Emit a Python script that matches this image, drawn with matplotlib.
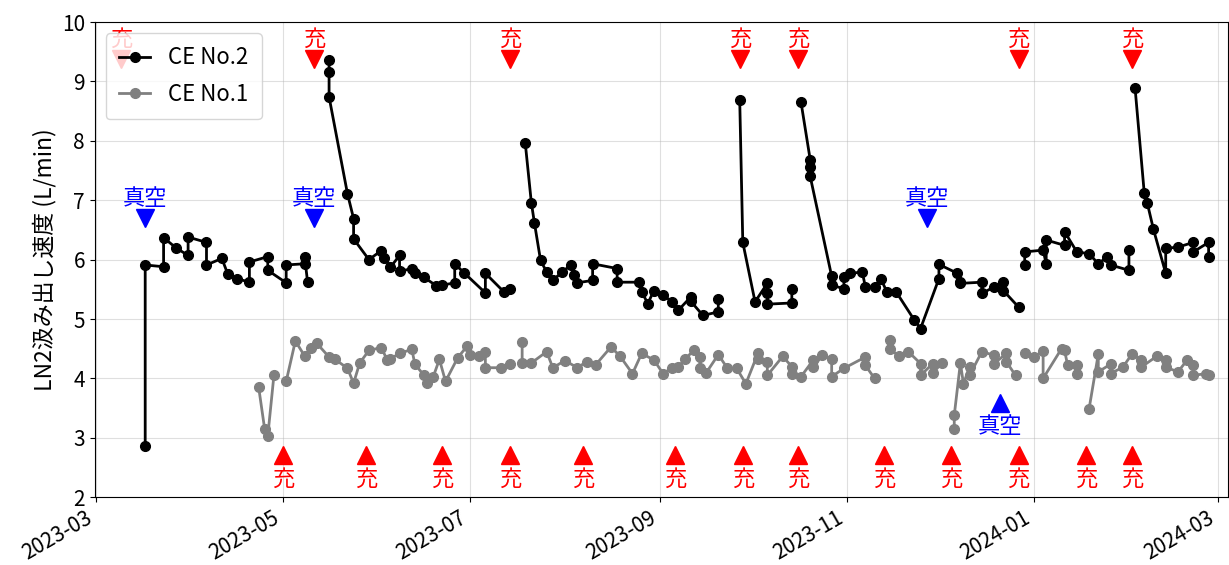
import matplotlib
matplotlib.use("Agg")
import matplotlib.dates as mdates
import matplotlib.pyplot as plt
import numpy as np
import pandas as pd

# CE No.2 (date, L/min); None marks a break in the line
ce2 = [
    ("2023-03-17", 2.87), ("2023-03-17", 5.91), ("2023-03-23", 5.88), ("2023-03-23", 6.37),
    ("2023-03-27", 6.20), ("2023-03-31", 6.07), ("2023-03-31", 6.38), ("2023-04-06", 6.29),
    ("2023-04-06", 5.91), ("2023-04-11", 6.02), ("2023-04-13", 5.75), ("2023-04-16", 5.68),
    ("2023-04-20", 5.62), ("2023-04-20", 5.96), ("2023-04-26", 6.05), ("2023-04-26", 5.82),
    ("2023-05-02", 5.61), ("2023-05-02", 5.91), ("2023-05-08", 5.93), ("2023-05-08", 6.05),
    ("2023-05-09", 5.62), ("2023-05-12", None),
    ("2023-05-16", 9.36), ("2023-05-16", 9.16), ("2023-05-16", 8.74), ("2023-05-22", 7.11),
    ("2023-05-24", 6.69), ("2023-05-24", 6.35), ("2023-05-29", 6.00), ("2023-06-02", 6.15),
    ("2023-06-03", 6.03), ("2023-06-05", 5.87), ("2023-06-08", 6.07), ("2023-06-08", 5.80),
    ("2023-06-12", 5.85), ("2023-06-13", 5.77), ("2023-06-16", 5.70), ("2023-06-20", 5.56),
    ("2023-06-22", 5.57), ("2023-06-26", 5.61), ("2023-06-26", 5.93), ("2023-06-29", 5.78),
    ("2023-07-06", 5.44), ("2023-07-06", 5.77), ("2023-07-12", 5.46), ("2023-07-14", 5.51),
    ("2023-07-16", None),
    ("2023-07-19", 7.97), ("2023-07-21", 6.96), ("2023-07-22", 6.62), ("2023-07-24", 5.99),
    ("2023-07-26", 5.79), ("2023-07-28", 5.65), ("2023-07-31", 5.79), ("2023-08-03", 5.91),
    ("2023-08-04", 5.74), ("2023-08-05", 5.61), ("2023-08-10", 5.65), ("2023-08-10", 5.93),
    ("2023-08-18", 5.85), ("2023-08-18", 5.62), ("2023-08-25", 5.62), ("2023-08-26", 5.46),
    ("2023-08-28", 5.26), ("2023-08-30", 5.48), ("2023-09-02", 5.40), ("2023-09-05", 5.29),
    ("2023-09-07", 5.15), ("2023-09-11", 5.37), ("2023-09-11", 5.30), ("2023-09-15", 5.06),
    ("2023-09-20", 5.12), ("2023-09-20", 5.34), ("2023-09-23", None),
    ("2023-09-27", 8.68), ("2023-09-28", 6.29), ("2023-10-02", 5.29), ("2023-10-06", 5.60),
    ("2023-10-06", 5.43), ("2023-10-06", 5.25), ("2023-10-14", 5.27), ("2023-10-14", 5.51),
    ("2023-10-15", None),
    ("2023-10-17", 8.65), ("2023-10-20", 7.68), ("2023-10-20", 7.56), ("2023-10-20", 7.40),
    ("2023-10-27", 5.72), ("2023-10-27", 5.57), ("2023-10-31", 5.51), ("2023-10-31", 5.71),
    ("2023-11-02", 5.77), ("2023-11-06", 5.79), ("2023-11-07", 5.54), ("2023-11-10", 5.54),
    ("2023-11-12", 5.68), ("2023-11-14", 5.46), ("2023-11-17", 5.46), ("2023-11-23", 4.98),
    ("2023-11-25", 4.84), ("2023-12-01", 5.68), ("2023-12-01", 5.92), ("2023-12-07", 5.77),
    ("2023-12-08", 5.63), ("2023-12-08", 5.60), ("2023-12-15", 5.62), ("2023-12-15", 5.43),
    ("2023-12-19", 5.54), ("2023-12-22", 5.62), ("2023-12-22", 5.48), ("2023-12-27", 5.20),
    ("2023-12-28", None),
    ("2023-12-29", 5.91), ("2023-12-29", 6.13), ("2024-01-04", 6.16), ("2024-01-05", 5.93),
    ("2024-01-05", 6.33), ("2024-01-11", 6.24), ("2024-01-11", 6.47), ("2024-01-15", 6.13),
    ("2024-01-19", 6.10), ("2024-01-22", 5.93), ("2024-01-25", 6.05), ("2024-01-26", 5.91),
    ("2024-02-01", 5.82), ("2024-02-01", 6.16), ("2024-02-02", None),
    ("2024-02-03", 8.89), ("2024-02-06", 7.12), ("2024-02-07", 6.95), ("2024-02-09", 6.51),
    ("2024-02-13", 5.77), ("2024-02-13", 6.19), ("2024-02-17", 6.21), ("2024-02-22", 6.29),
    ("2024-02-22", 6.13), ("2024-02-27", 6.29), ("2024-02-27", 6.05),
]

# CE No.1
ce1 = [
    ("2023-04-23", 3.86), ("2023-04-25", 3.14), ("2023-04-26", 3.03), ("2023-04-28", 4.05),
    ("2023-04-30", None),
    ("2023-05-02", 3.95), ("2023-05-05", 4.63), ("2023-05-08", 4.38), ("2023-05-10", 4.51),
    ("2023-05-12", 4.59), ("2023-05-16", 4.36), ("2023-05-18", 4.32), ("2023-05-22", 4.17),
    ("2023-05-24", 3.92), ("2023-05-26", 4.26), ("2023-05-29", 4.47), ("2023-06-02", 4.52),
    ("2023-06-04", 4.31), ("2023-06-05", 4.33), ("2023-06-08", 4.42), ("2023-06-12", 4.49),
    ("2023-06-13", 4.24), ("2023-06-16", 4.05), ("2023-06-17", 3.92), ("2023-06-19", 4.03),
    ("2023-06-21", 4.32), ("2023-06-23", 3.95), ("2023-06-27", 4.35), ("2023-06-30", 4.54),
    ("2023-07-01", 4.39), ("2023-07-04", 4.37), ("2023-07-06", 4.45), ("2023-07-06", 4.18),
    ("2023-07-11", 4.18), ("2023-07-14", 4.24), ("2023-07-16", None),
    ("2023-07-18", 4.61), ("2023-07-18", 4.26), ("2023-07-21", 4.26), ("2023-07-26", 4.45),
    ("2023-07-28", 4.18), ("2023-08-01", 4.30), ("2023-08-05", 4.18), ("2023-08-08", 4.28),
    ("2023-08-11", 4.23), ("2023-08-16", 4.53), ("2023-08-19", 4.37), ("2023-08-23", 4.08),
    ("2023-08-26", 4.42), ("2023-08-30", 4.31), ("2023-09-02", 4.08), ("2023-09-05", 4.18),
    ("2023-09-07", 4.19), ("2023-09-09", 4.32), ("2023-09-12", 4.47), ("2023-09-14", 4.36),
    ("2023-09-14", 4.17), ("2023-09-16", 4.09), ("2023-09-20", 4.40), ("2023-09-23", 4.17),
    ("2023-09-26", 4.17), ("2023-09-29", 3.91), ("2023-10-03", 4.43), ("2023-10-03", 4.32),
    ("2023-10-06", 4.28), ("2023-10-06", 4.05), ("2023-10-11", 4.37), ("2023-10-14", 4.20),
    ("2023-10-14", 4.08), ("2023-10-17", 4.03), ("2023-10-21", 4.31), ("2023-10-21", 4.19),
    ("2023-10-24", 4.39), ("2023-10-27", 4.33), ("2023-10-27", 4.03), ("2023-10-31", 4.17),
    ("2023-11-07", 4.36), ("2023-11-07", 4.22), ("2023-11-10", 4.00), ("2023-11-12", None),
    ("2023-11-15", 4.65), ("2023-11-15", 4.50), ("2023-11-18", 4.37), ("2023-11-21", 4.45),
    ("2023-11-25", 4.25), ("2023-11-25", 4.05), ("2023-11-29", 4.25), ("2023-11-29", 4.09),
    ("2023-12-02", 4.26), ("2023-12-04", None),
    ("2023-12-06", 3.14), ("2023-12-06", 3.38), ("2023-12-08", 4.26), ("2023-12-09", 3.91),
    ("2023-12-11", 4.19), ("2023-12-11", 4.05), ("2023-12-15", 4.45), ("2023-12-19", 4.39),
    ("2023-12-19", 4.25), ("2023-12-23", 4.42), ("2023-12-23", 4.28), ("2023-12-26", 4.05),
    ("2023-12-28", None),
    ("2023-12-29", 4.42), ("2024-01-01", 4.36), ("2024-01-04", 4.46), ("2024-01-04", 4.00),
    ("2024-01-10", 4.50), ("2024-01-11", 4.47), ("2024-01-12", 4.22), ("2024-01-15", 4.22),
    ("2024-01-15", 4.08), ("2024-01-17", None),
    ("2024-01-19", 3.49), ("2024-01-22", 4.41), ("2024-01-22", 4.11), ("2024-01-26", 4.24),
    ("2024-01-26", 4.08), ("2024-01-30", 4.19), ("2024-02-02", 4.41), ("2024-02-05", 4.31),
    ("2024-02-05", 4.19), ("2024-02-10", 4.37), ("2024-02-13", 4.31), ("2024-02-13", 4.19),
    ("2024-02-17", 4.11), ("2024-02-20", 4.31), ("2024-02-22", 4.22), ("2024-02-22", 4.05),
    ("2024-02-26", 4.08), ("2024-02-27", 4.05),
]

# event dates
fill_top = ["2023-03-09", "2023-05-11", "2023-07-14", "2023-09-27", "2023-10-16",
            "2023-12-27", "2024-02-02"]
fill_bottom = ["2023-05-01", "2023-05-28", "2023-06-22", "2023-07-14", "2023-08-07",
               "2023-09-06", "2023-09-28", "2023-10-16", "2023-11-13", "2023-12-05",
               "2023-12-27", "2024-01-18", "2024-02-02"]
vac_top = ["2023-03-17", "2023-05-11", "2023-11-27"]
vac_bottom = ["2023-12-21"]


def to_xy(rows):
    dates = pd.to_datetime([d for d, _ in rows])
    vals = np.array([np.nan if v is None else v for _, v in rows], dtype=float)
    return dates, vals


plt.rcParams["font.family"] = ["Noto Sans CJK JP", "DejaVu Sans"]

fig, ax = plt.subplots(figsize=(12.29, 5.65), dpi=100)
fig.subplots_adjust(left=0.077, right=0.999, top=0.961, bottom=0.12)

x2, y2 = to_xy(ce2)
x1, y1 = to_xy(ce1)
ax.plot(x2, y2, "-o", color="black", lw=2, ms=7, label="CE No.2")
ax.plot(x1, y1, "-o", color="gray", lw=2, ms=7, label="CE No.1")

tsize = 16
for d in pd.to_datetime(fill_top):
    ax.plot(d, 9.38, "v", color="red", ms=13)
    ax.text(d, 9.70, "充", color="red", fontsize=tsize, ha="center", va="center")
for d in pd.to_datetime(fill_bottom):
    ax.plot(d, 2.71, "^", color="red", ms=13)
    ax.text(d, 2.30, "充", color="red", fontsize=tsize, ha="center", va="center")
for d in pd.to_datetime(vac_top):
    ax.plot(d, 6.70, "v", color="blue", ms=13)
    ax.text(d, 7.03, "真空", color="blue", fontsize=tsize, ha="center", va="center")
for d in pd.to_datetime(vac_bottom):
    ax.plot(d, 3.59, "^", color="blue", ms=13)
    ax.text(d, 3.19, "真空", color="blue", fontsize=tsize, ha="center", va="center")

ax.set_ylim(2, 10)
ax.set_xlim(pd.Timestamp("2023-02-28 12:00"), pd.Timestamp("2024-03-04 06:00"))
ax.xaxis.set_major_locator(mdates.MonthLocator(bymonth=[1, 3, 5, 7, 9, 11]))
ax.xaxis.set_major_formatter(mdates.DateFormatter("%Y-%m"))
ax.tick_params(labelsize=15)
plt.setp(ax.get_xticklabels(), rotation=30, ha="right")
ax.set_ylabel("LN2汲み出し速度 (L/min)", fontsize=16.5)
ax.grid(alpha=0.4)
ax.legend(loc="upper left", fontsize=16, borderpad=0.6, labelspacing=0.6,
          handlelength=1.4)

fig.savefig("out.png", dpi=100)
